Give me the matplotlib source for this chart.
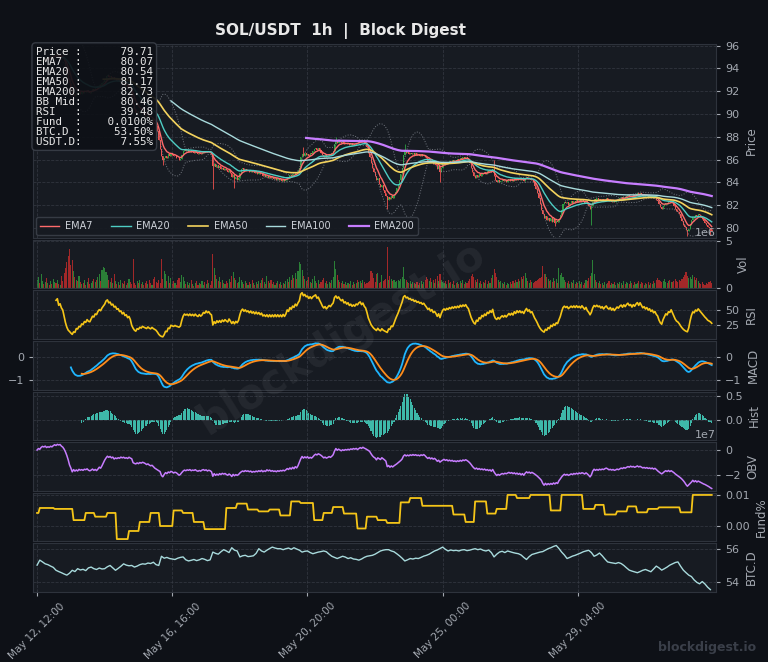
import numpy as np
import pandas as pd
import matplotlib
matplotlib.use("Agg")
import matplotlib.pyplot as plt
from matplotlib.ticker import MaxNLocator, MultipleLocator

# hourly closes, SOL/USDT
closes = [
    94.60, 94.72, 94.55, 94.68, 94.80, 94.74, 94.90, 94.83, 95.00, 94.92,
    95.10, 95.04, 95.18, 95.30, 95.16, 95.24, 95.05, 95.12, 94.98, 94.90,
    94.62, 94.15, 93.60, 93.05, 92.70, 92.20, 91.65, 91.80, 91.62, 91.85,
    91.74, 91.90, 91.80, 91.98, 91.88, 92.06, 91.95, 92.12, 91.90, 91.84,
    92.00, 92.18, 92.10, 92.30, 92.24, 92.45, 92.58, 92.50, 92.70, 92.85,
    93.00, 93.30, 93.42, 93.25, 93.32, 93.15, 93.22, 93.05, 93.10, 92.92,
    92.96, 92.78, 92.82, 92.62, 92.70, 92.48, 92.52, 92.30, 92.36, 92.10,
    91.40, 90.90, 90.40, 90.10, 90.25, 90.10, 90.22, 90.05, 90.15, 89.98,
    89.85, 89.72, 89.80, 89.58, 89.45, 89.52, 89.30, 89.15, 88.95, 88.50,
    87.70, 86.90, 86.30, 85.95, 86.10, 86.35, 86.18, 86.45, 86.30, 86.55,
    86.40, 86.28, 86.35, 86.18, 86.10, 85.98, 86.05, 86.40, 86.72, 86.90,
    86.78, 86.85, 86.70, 86.82, 86.66, 86.75, 86.60, 86.72, 86.58, 86.50,
    86.62, 86.48, 86.55, 86.70, 86.64, 86.78, 86.66, 86.72, 86.58, 86.50,
    85.40, 85.60, 85.35, 85.52, 85.28, 85.40, 85.15, 85.30, 85.10, 85.22,
    85.05, 84.92, 85.10, 84.85, 84.50, 84.62, 84.30, 84.45, 84.25, 84.40,
    84.80, 85.15, 85.30, 85.10, 85.22, 85.05, 85.12, 84.95, 85.08, 84.90,
    85.00, 84.82, 84.95, 84.78, 84.88, 84.70, 84.80, 84.55, 84.62, 84.48,
    84.58, 84.40, 84.52, 84.35, 84.46, 84.30, 84.42, 84.25, 84.36, 84.20,
    84.30, 84.15, 84.28, 84.12, 84.25, 84.50, 84.40, 84.65, 84.55, 84.78,
    84.70, 84.95, 84.85, 85.10, 85.30, 86.20, 86.50, 86.30, 86.55, 86.40,
    86.50, 86.35, 86.60, 86.48, 86.75, 86.90, 87.05, 86.85, 87.00, 86.80,
    86.62, 86.40, 86.25, 86.38, 86.20, 86.35, 86.50, 86.42, 86.60, 86.75,
    87.40, 87.65, 87.50, 87.70, 87.55, 87.45, 87.60, 87.38, 87.50, 87.35,
    87.48, 87.30, 87.42, 87.28, 87.40, 87.32, 87.50, 87.45, 87.62, 87.70,
    87.55, 87.68, 87.50, 87.40, 87.10, 86.60, 86.20, 85.70, 85.30, 84.90,
    84.60, 84.25, 84.40, 83.90, 83.60, 83.75, 83.30, 83.05, 82.80, 82.45,
    82.70, 82.55, 82.80, 82.65, 82.90, 83.20, 83.50, 83.80, 84.20, 84.70,
    85.30, 86.40, 86.80, 86.55, 86.70, 86.50, 86.62, 86.45, 86.58, 86.40,
    86.55, 86.38, 86.50, 86.35, 86.45, 86.30, 86.42, 86.25, 86.10, 85.90,
    86.00, 85.75, 85.88, 85.60, 85.70, 85.50, 85.20, 85.40, 84.95, 85.30,
    85.60, 85.75, 85.62, 85.80, 85.70, 85.88, 85.78, 85.95, 85.85, 86.00,
    85.90, 86.05, 85.95, 86.15, 86.05, 86.20, 86.12, 86.25, 86.10, 86.00,
    85.70, 85.30, 84.95, 84.60, 84.40, 84.65, 84.50, 84.75, 84.60, 84.85,
    84.70, 84.90, 84.75, 85.00, 84.88, 85.10, 84.95, 85.20, 84.60, 84.20,
    84.05, 84.20, 84.00, 84.15, 84.25, 84.10, 84.22, 84.05, 84.18, 84.30,
    84.15, 84.28, 84.12, 84.35, 84.20, 84.40, 84.25, 84.38, 84.22, 84.30,
    84.15, 84.35, 84.50, 84.30, 84.40, 84.18, 84.25, 84.00, 83.70, 83.45,
    83.10, 82.60, 82.10, 81.60, 81.20, 80.85, 81.05, 80.70, 80.90, 80.60,
    80.85, 80.55, 80.75, 80.45, 80.65, 80.50, 80.80, 81.10, 81.60, 82.10,
    82.30, 82.15, 82.28, 82.05, 82.20, 82.35, 82.22, 82.40, 82.25, 82.45,
    82.30, 82.42, 82.28, 82.50, 82.35, 82.20, 82.38, 82.10, 81.95, 81.70,
    81.90, 82.30, 82.55, 82.45, 82.60, 82.48, 82.55, 82.40, 82.52, 82.35,
    82.50, 82.60, 82.45, 82.38, 82.50, 82.32, 82.45, 82.30, 82.42, 82.55,
    82.48, 82.62, 82.70, 82.58, 82.75, 82.65, 82.80, 82.90, 82.78, 82.85,
    82.72, 82.88, 82.80, 82.95, 83.05, 82.92, 83.10, 82.98, 82.85, 82.92,
    82.80, 82.88, 82.75, 82.82, 82.68, 82.75, 82.60, 82.66, 82.50, 82.40,
    82.10, 81.85, 81.70, 81.90, 82.05, 82.20, 82.12, 82.30, 82.25, 82.40,
    82.20, 81.95, 81.70, 81.50, 81.40, 81.20, 80.90, 80.60, 80.30, 80.05,
    79.85, 79.70, 79.90, 80.30, 80.70, 81.00, 80.90, 81.15, 81.05, 81.25,
    81.10, 80.95, 80.80, 80.60, 80.45, 80.30, 80.10, 80.00, 79.90, 79.71,
]

# hourly volume, millions
volumes = [
    0.9, 1.2, 0.6, 1.5, 0.8, 0.5, 0.7, 1.1, 0.6, 0.4, 0.8, 0.5, 1.0, 0.7, 0.6, 0.9, 0.5, 0.4, 1.3, 0.8,
    1.6, 2.2, 2.8, 3.4, 4.1, 2.5, 3.0, 1.8, 1.2, 0.9, 0.8, 1.3, 0.7, 0.5, 0.6, 0.9, 0.4, 0.7, 1.1, 0.5,
    0.6, 0.8, 1.0, 0.7, 0.9, 1.2, 1.5, 0.8, 1.9, 2.3, 2.2, 1.7, 1.4, 0.9, 0.7, 1.1, 0.6, 1.5, 0.8, 0.5,
    0.7, 0.4, 0.9, 0.6, 0.5, 0.8, 0.4, 0.6, 1.0, 0.7, 0.5, 3.1, 0.6, 0.4, 0.8, 0.6, 0.9, 0.5, 0.7, 0.4,
    0.6, 0.8, 0.5, 0.9, 0.6, 0.4, 1.0, 1.2, 0.7, 0.6, 0.9, 0.6, 3.1, 1.0, 1.8, 1.5, 0.8, 1.3, 0.6, 1.1,
    0.5, 0.8, 0.6, 0.4, 0.9, 1.1, 0.7, 1.4, 1.2, 0.8, 0.5, 0.7, 0.4, 0.6, 0.9, 0.5, 0.3, 0.6, 0.8, 0.4,
    0.6, 0.5, 0.8, 0.4, 0.7, 0.5, 0.9, 0.6, 0.4, 0.8, 3.6, 2.1, 1.4, 1.0, 0.8, 1.2, 0.7, 0.9, 0.6, 0.5,
    0.8, 0.6, 1.0, 0.7, 1.3, 1.7, 1.1, 0.9, 0.6, 0.7, 1.2, 0.9, 0.7, 0.5, 0.8, 0.6, 0.4, 0.7, 0.5, 0.9,
    0.6, 0.4, 0.7, 0.5, 0.8, 0.6, 0.9, 1.1, 0.7, 0.5, 1.3, 0.8, 0.6, 0.9, 0.5, 0.7, 0.4, 0.6, 0.8, 0.5,
    0.7, 0.4, 0.6, 0.5, 0.8, 1.0, 0.7, 1.2, 0.9, 1.4, 1.1, 1.6, 1.0, 1.8, 2.8, 2.6, 1.9, 1.3, 1.0, 0.8,
    0.9, 1.2, 0.7, 0.6, 1.0, 1.3, 0.8, 0.6, 0.9, 0.5, 0.7, 0.9, 1.1, 0.6, 0.8, 0.5, 0.7, 0.6, 0.9, 1.2,
    2.9, 2.0, 1.4, 0.9, 0.7, 0.6, 0.8, 0.5, 0.7, 0.4, 0.6, 0.5, 0.8, 0.4, 0.7, 0.5, 0.6, 0.9, 0.7, 0.8,
    0.6, 0.9, 0.7, 0.5, 0.6, 0.7, 0.8, 1.8, 1.6, 1.1, 0.7, 1.5, 1.6, 0.6, 0.7, 1.4, 0.8, 0.9, 1.0, 4.4,
    0.9, 1.3, 1.0, 0.8, 0.9, 0.7, 0.8, 0.9, 0.8, 1.0, 1.2, 2.3, 1.0, 0.9, 0.7, 0.6, 0.8, 0.5, 0.7, 0.6,
    0.5, 0.7, 0.4, 0.6, 0.8, 0.5, 0.7, 0.9, 1.2, 1.0, 0.8, 1.1, 0.7, 0.9, 0.6, 1.0, 1.3, 0.8, 1.5, 0.9,
    0.7, 0.6, 0.8, 0.5, 0.9, 0.6, 0.7, 0.5, 0.8, 0.4, 0.6, 0.7, 0.5, 0.8, 0.6, 0.9, 0.5, 0.7, 0.6, 0.8,
    1.0, 1.3, 1.5, 1.2, 0.9, 0.7, 1.0, 0.6, 0.8, 0.5, 0.7, 0.6, 0.9, 0.5, 0.8, 0.6, 1.1, 1.4, 2.0, 1.6,
    1.2, 0.9, 0.7, 0.8, 0.6, 0.5, 0.7, 0.4, 0.6, 0.5, 0.7, 0.5, 0.8, 0.6, 0.9, 0.7, 1.0, 0.8, 1.2, 1.0,
    1.3, 1.6, 1.1, 0.8, 0.6, 0.9, 0.7, 0.6, 0.7, 0.8, 0.9, 1.0, 1.1, 1.2, 2.4, 1.5, 1.5, 1.2, 1.0, 0.8,
    0.9, 0.7, 1.1, 0.8, 1.0, 0.6, 2.2, 1.4, 1.6, 1.2, 0.9, 0.7, 0.6, 0.8, 0.5, 0.7, 0.6, 0.9, 0.5, 0.7,
    0.6, 0.8, 0.5, 0.7, 0.4, 0.6, 0.9, 0.8, 1.1, 1.3, 1.6, 3.0, 1.5, 0.9, 0.7, 0.6, 0.8, 0.5, 0.6, 0.4,
    0.7, 0.5, 0.6, 0.8, 0.4, 0.6, 0.5, 0.7, 0.4, 0.6, 0.5, 0.7, 0.6, 0.4, 0.8, 0.5, 0.7, 0.6, 0.5, 0.8,
    0.6, 0.4, 0.7, 0.5, 0.6, 0.8, 0.5, 0.7, 0.6, 0.4, 0.6, 0.5, 0.7, 0.4, 0.6, 0.5, 0.8, 0.6, 0.9, 1.1,
    0.9, 0.8, 0.7, 0.8, 1.0, 0.7, 0.6, 0.8, 0.9, 0.7, 0.7, 0.8, 1.0, 0.8, 0.7, 0.9, 0.8, 1.0, 1.2, 1.4,
    1.7, 1.3, 1.1, 1.2, 1.0, 1.4, 1.2, 0.9, 1.1, 0.8, 0.6, 0.5, 0.7, 0.5, 0.4, 0.6, 0.5, 0.7, 0.8, 0.6,
]

# long wicks on a few candles
wick_low = {93: 85.5, 130: 83.4, 146: 83.5, 259: 81.7, 298: 84.0, 383: 80.2, 410: 80.3, 481: 79.3, 498: 79.4}
wick_high = {197: 87.1, 221: 88.0, 272: 87.4, 338: 86.0}

# funding rate (%) steps: hour where each level starts
fund_start = [0, 2, 13, 27, 36, 43, 52, 59, 68, 76, 84, 91, 101, 108, 116, 124, 140, 148, 156,
              164, 172, 180, 188, 195, 205, 212, 219, 227, 237, 244, 252, 259, 269, 276, 285,
              308, 317, 324, 333, 340, 348, 355, 365, 380, 388, 404, 413, 420, 429, 437, 444,
              452, 460, 476, 485]
fund_vals = [0.0042, 0.0058, 0.0055, 0.0019, 0.0042, 0.0030, 0.0042, -0.0042, -0.0016, 0.0013,
             0.0042, 0.0000, 0.0050, 0.0042, 0.0013, -0.0010, 0.0058, 0.0072, 0.0053, 0.0047,
             0.0053, 0.0034, 0.0079, 0.0074, 0.0019, 0.0042, 0.0061, 0.0040, -0.0008, 0.0030,
             0.0019, 0.0010, 0.0076, 0.0090, 0.0065, 0.0037, 0.0013, 0.0079, 0.0040, 0.0055,
             0.0100, 0.0090, 0.0100, 0.0050, 0.0100, 0.0055, 0.0068, 0.0037, 0.0047, 0.0063,
             0.0044, 0.0055, 0.0060, 0.0044, 0.0100]

# BTC dominance (%), every 2 hours
btc_dom = [
    55.02, 55.33, 55.22, 55.10, 55.05, 54.96, 54.88, 54.70, 54.62, 54.55,
    54.47, 54.40, 54.52, 54.70, 54.62, 54.80, 54.72, 54.76, 54.68, 54.85,
    54.90, 54.80, 54.75, 54.84, 54.78, 54.80, 54.92, 55.00, 54.85, 54.70,
    54.82, 54.95, 55.10, 55.02, 54.98, 55.00, 54.90, 54.96, 55.05, 55.10,
    55.08, 55.15, 55.12, 55.20, 55.05, 55.00, 55.57, 55.45, 55.50, 55.43,
    55.40, 55.37, 55.45, 55.50, 55.53, 55.35, 55.28, 55.32, 55.37, 55.30,
    55.35, 55.43, 55.38, 55.30, 55.35, 55.83, 55.75, 55.70, 55.85, 55.98,
    55.90, 55.80, 56.10, 55.95, 55.90, 55.53, 55.60, 55.63, 55.55, 55.57,
    55.60, 55.75, 56.04, 55.90, 55.83, 55.95, 56.05, 56.14, 56.08, 56.04,
    56.04, 55.98, 56.04, 56.08, 56.00, 56.10, 56.02, 55.95, 55.83, 55.88,
    55.90, 55.80, 55.73, 55.78, 55.83, 55.86, 55.90, 55.85, 55.70, 55.57,
    55.50, 55.43, 55.50, 55.57, 55.52, 55.43, 55.48, 55.40, 55.38, 55.33,
    55.40, 55.50, 55.57, 55.60, 55.63, 55.70, 55.80, 55.90, 55.95, 55.98,
    55.98, 55.90, 55.85, 55.73, 55.60, 55.45, 55.28, 55.35, 55.43, 55.40,
    55.45, 55.43, 55.50, 55.58, 55.63, 55.70, 55.80, 55.90, 55.96, 56.05,
    56.14, 56.00, 55.90, 55.96, 55.92, 55.94, 55.90, 55.96, 55.98, 55.92,
    55.95, 56.00, 56.04, 55.98, 56.02, 55.94, 55.90, 55.96, 55.80, 55.53,
    55.70, 55.83, 55.88, 55.80, 55.90, 55.85, 55.80, 55.76, 55.73, 55.65,
    55.50, 55.37, 55.55, 55.68, 55.73, 55.78, 55.83, 55.86, 55.95, 56.04,
    56.10, 56.18, 56.24, 56.05, 55.83, 55.65, 55.43, 55.50, 55.58, 55.63,
    55.70, 55.77, 55.85, 55.90, 55.94, 55.80, 55.57, 55.65, 55.77, 55.60,
    55.40, 55.22, 55.18, 55.15, 55.12, 55.18, 55.12, 55.00, 54.85, 54.71,
    54.65, 54.60, 54.55, 54.62, 54.70, 54.75, 54.68, 54.61, 54.78, 54.96,
    54.85, 54.71, 54.80, 54.90, 55.02, 55.10, 55.18, 55.22, 54.95, 54.71,
    54.55, 54.40, 54.31, 54.10, 53.95, 53.86, 54.00, 53.85, 53.65, 53.50,
]

info_labels = ["Price", "EMA7", "EMA20", "EMA50", "EMA200", "BB Mid", "RSI", "Fund", "BTC.D", "USDT.D"]
info_values = ["79.71", "80.07", "80.54", "81.17", "82.73", "80.46", "39.48", "0.0100%", "53.50%", "7.55%"]

BG = "#0e1117"
AX_BG = "#171b22"
TXT = "#a3a8b0"
GRID = "#3b404a"
UP = "#2ea043"
DOWN = "#f0524f"

n = len(closes)
idx = np.arange(n)
times = pd.date_range("2024-05-12 12:00", periods=n, freq="h")

df = pd.DataFrame({"close": closes, "vol": np.array(volumes[:n]) * 1e6})
df["open"] = df.close.shift(1).fillna(df.close[0])
df["high"] = df[["open", "close"]].max(axis=1)
df["low"] = df[["open", "close"]].min(axis=1)
for k, v in wick_low.items():
    df.loc[k, "low"] = v
for k, v in wick_high.items():
    df.loc[k, "high"] = v

def ema(s, span):
    return s.ewm(span=span, adjust=False, min_periods=span).mean()

emas = {p: ema(df.close, p) for p in (7, 20, 50, 100, 200)}
bb_mid = df.close.rolling(20).mean()
bb_std = df.close.rolling(20).std()

delta = df.close.diff()
gain = delta.clip(lower=0).ewm(alpha=1 / 14, min_periods=14).mean()
loss = (-delta.clip(upper=0)).ewm(alpha=1 / 14, min_periods=14).mean()
rsi = 100 - 100 / (1 + gain / loss)

macd = ema(df.close, 12) - ema(df.close, 26)
signal = macd.ewm(span=9, adjust=False, min_periods=9).mean()
hist = macd - signal

obv = (np.sign(delta.fillna(0)) * df.vol).cumsum()

fund = np.zeros(n)
ends = fund_start[1:] + [n]
for s, e, v in zip(fund_start, ends, fund_vals):
    fund[s:e] = v

btc_x = np.arange(0, n, 2)[:len(btc_dom)]

fig = plt.figure(figsize=(7.68, 6.62), dpi=100, facecolor=BG)
gs = fig.add_gridspec(8, 1, height_ratios=[4, 1, 1, 1, 1, 1, 1, 1], hspace=0.03,
                      left=0.043, right=0.932, top=0.934, bottom=0.106)
axes = []
for i in range(8):
    ax = fig.add_subplot(gs[i], sharex=axes[0] if axes else None)
    ax.set_facecolor(AX_BG)
    for sp in ax.spines.values():
        sp.set_color("#2e333c")
    ax.yaxis.tick_right()
    ax.yaxis.set_label_position("right")
    ax.tick_params(colors=TXT, labelsize=8, length=3)
    ax.grid(True, color=GRID, linestyle="--", linewidth=0.6, alpha=0.7)
    axes.append(ax)
ax_p, ax_v, ax_r, ax_m, ax_h, ax_o, ax_f, ax_b = axes

# candles
cols = np.where(df.close >= df.open, UP, DOWN)
ax_p.vlines(idx, df.low, df.high, colors=cols, linewidth=0.6, zorder=2)
body = (df.close - df.open).abs().clip(lower=0.02)
ax_p.bar(idx, body, bottom=df[["open", "close"]].min(axis=1), width=0.75, color=cols,
         linewidth=0, zorder=2)
ax_p.plot(idx, bb_mid + 2 * bb_std, color="#8a8f98", lw=0.7, ls=":", alpha=0.8, zorder=3)
ax_p.plot(idx, bb_mid - 2 * bb_std, color="#8a8f98", lw=0.7, ls=":", alpha=0.8, zorder=3)
ema_cols = {7: "#ff6b6b", 20: "#4ecdc4", 50: "#f4d35e", 100: "#a8dadc", 200: "#c77dff"}
ema_lw = {7: 1.0, 20: 1.0, 50: 1.2, 100: 1.0, 200: 1.6}
for p in (7, 20, 50, 100, 200):
    ax_p.plot(idx, emas[p], color=ema_cols[p], lw=ema_lw[p], label=f"EMA{p}", zorder=4)
ax_p.set_ylim(79.13, 96.17)
ax_p.yaxis.set_major_locator(MultipleLocator(2))
ax_p.set_ylabel("Price", color=TXT, fontsize=8.5)
leg = ax_p.legend(loc="lower left", ncol=5, fontsize=7, frameon=True, facecolor="#161a21",
                  edgecolor="#3a3f48", labelcolor="#cfd3da", borderaxespad=0.3,
                  handletextpad=0.6, columnspacing=1.9)
leg.get_frame().set_alpha(0.9)

lines = [f"{k:<6}:{v:>11}" for k, v in zip(info_labels, info_values)]
ax_p.text(0.004, 0.985, "\n".join(lines), transform=ax_p.transAxes, va="top", ha="left",
          family="DejaVu Sans Mono", fontsize=7.8, color="#e8e8e8", linespacing=1.0, zorder=10,
          bbox=dict(boxstyle="round,pad=0.35", fc="#0e1117", ec="#3a3f48", alpha=0.92))

# volume
vcols = np.where(df.close >= df.open, "#2e8b3a", "#b22a2a")
ax_v.bar(idx, df.vol, width=0.8, color=vcols, alpha=0.9, linewidth=0)
ax_v.set_ylim(0, 5.1e6)
ax_v.set_yticks([0, 5e6])
ax_v.set_ylabel("Vol", color=TXT, fontsize=8.5)

ax_r.plot(idx, rsi, color="#f5c518", lw=1.2)
ax_r.set_ylabel("RSI", color=TXT, fontsize=8.5)
ax_r.set_yticks([25, 50])

ax_m.plot(idx, macd, color="#1fb6ff", lw=1.3)
ax_m.plot(idx, signal, color="#ff8c1a", lw=1.3)
ax_m.set_ylabel("MACD", color=TXT, fontsize=8.5)
ax_m.tick_params(left=True, labelleft=True)

ax_h.bar(idx, hist, width=0.8, color="#48e0cc", alpha=0.8, linewidth=0)
ax_h.set_ylabel("Hist", color=TXT, fontsize=8.5)

ax_o.plot(idx, obv, color="#c77dff", lw=1.1)
ax_o.set_ylabel("OBV", color=TXT, fontsize=8.5)

ax_f.plot(idx, fund, color="#f5c518", lw=1.3)
ax_f.set_ylabel("Fund%", color=TXT, fontsize=8.5)

ax_b.plot(btc_x, btc_dom, color="#a8dadc", lw=1.0)
ax_b.set_ylabel("BTC.D", color=TXT, fontsize=8.5)

for ax in (ax_m, ax_h, ax_o, ax_f, ax_b):
    ax.yaxis.set_major_locator(MaxNLocator(2, steps=[1, 2, 2.5, 5, 10]))
for ax in (ax_v, ax_o):
    ax.yaxis.set_offset_position("right")
    ot = ax.yaxis.get_offset_text()
    ot.set_horizontalalignment("right")
    ot.set_color(TXT)
    ot.set_fontsize(8)

for ax in axes[:-1]:
    ax.tick_params(labelbottom=False, bottom=False)
ticks = idx[::100]
ax_b.set_xticks(ticks)
ax_b.set_xticklabels([t.strftime("%b %d, %H:%M") for t in times[ticks]], rotation=45, fontsize=7.5)
ax_b.set_xlim(-3, n + 2)

fig.suptitle("SOL/USDT  1h  |  Block Digest", color="#e8e8e8", fontsize=11, weight="bold",
             x=0.444, y=0.965)
fig.text(0.445, 0.49, "blockdigest.io", fontsize=30, weight="bold", color="white", alpha=0.06,
         rotation=32, ha="center", va="center")
fig.text(0.985, 0.012, "blockdigest.io", fontsize=9, weight="bold", color="#3a3f49",
         ha="right", va="bottom")

fig.savefig("out.png", dpi=100, facecolor=BG)
